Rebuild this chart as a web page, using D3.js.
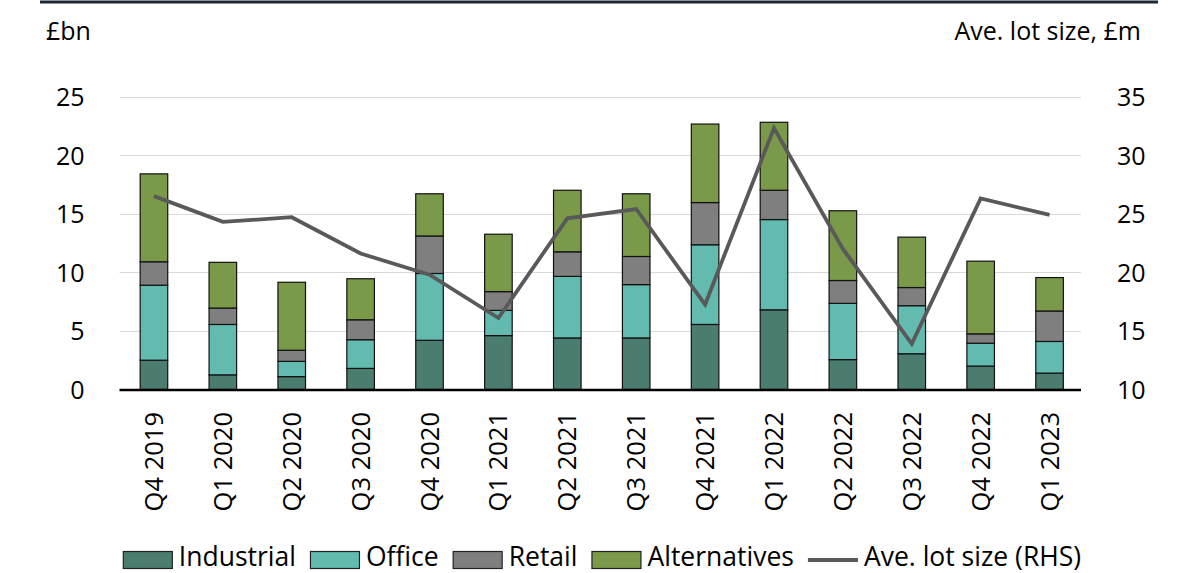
<!DOCTYPE html>
<html>
<head>
<meta charset="utf-8">
<script src="https://cdn.jsdelivr.net/npm/d3@7"></script>
<style>
  html, body { margin: 0; padding: 0; background: #ffffff; }
  svg { display: block; font-family: "Open Sans", "Noto Sans", sans-serif; }
</style>
</head>
<body>
<svg id="chart" width="1183" height="573"></svg>
<script>
// Quarterly investment volumes by sector (£bn) and average lot size (£m)
const quarters = ["Q4 2019", "Q1 2020", "Q2 2020", "Q3 2020", "Q4 2020", "Q1 2021", "Q2 2021",
                  "Q3 2021", "Q4 2021", "Q1 2022", "Q2 2022", "Q3 2022", "Q4 2022", "Q1 2023"];
const industrial   = [2.5, 1.25, 1.1, 1.8, 4.2, 4.6, 4.4, 4.4, 5.55, 6.8, 2.55, 3.05, 2.0, 1.4];
const office       = [6.4, 4.3, 1.3, 2.45, 5.7, 2.15, 5.25, 4.55, 6.8, 7.7, 4.8, 4.1, 1.95, 2.7];
const retail       = [2.0, 1.4, 0.95, 1.7, 3.2, 1.6, 2.1, 2.4, 3.6, 2.5, 1.95, 1.55, 0.8, 2.6];
const alternatives = [7.5, 3.9, 5.8, 3.5, 3.6, 4.9, 5.25, 5.35, 6.7, 5.8, 5.95, 4.3, 6.2, 2.85];
const avgLotSize   = [26.5, 24.3, 24.7, 21.6, 19.8, 16.1, 24.6, 25.4, 17.25, 32.3, 22.0, 13.9, 26.3, 24.9];

const leftTicks  = [0, 5, 10, 15, 20, 25];
const rightTicks = [10, 15, 20, 25, 30, 35];

const seriesNames = ["Industrial", "Office", "Retail", "Alternatives"];
const seriesColors = ["#4a7c6f", "#63bbb0", "#7f7f7f", "#7a9a4a"];
const lineName = "Ave. lot size (RHS)";
const lineColor = "#595959";

const svg = d3.select("#chart");
const plot = { left: 119.5, right: 1084, top: 96.5, bottom: 389.5 };

const x = d3.scaleBand()
  .domain(quarters)
  .range([plot.left, plot.right])
  .paddingInner(0.6)
  .paddingOuter(0.3);

const yL = d3.scaleLinear().domain([0, 25]).range([plot.bottom, plot.top]);
const yR = d3.scaleLinear().domain([10, 35]).range([plot.bottom, plot.top]);

// Thin rule across the top
svg.append("line")
  .attr("x1", 40).attr("x2", 1158)
  .attr("y1", 2).attr("y2", 2)
  .attr("stroke", "#1e2836").attr("stroke-width", 3);

// Horizontal gridlines
svg.append("g")
  .selectAll("line")
  .data(leftTicks.filter(d => d > 0))
  .join("line")
  .attr("x1", plot.left).attr("x2", plot.right - 3)
  .attr("y1", d => Math.round(yL(d)) + 0.5)
  .attr("y2", d => Math.round(yL(d)) + 0.5)
  .attr("stroke", "#d9d9d9").attr("stroke-width", 1);

// Left axis
const leftAxis = svg.append("g")
  .attr("transform", `translate(${plot.left},0)`)
  .call(d3.axisLeft(yL).tickValues(leftTicks).tickSize(0).tickPadding(35));
leftAxis.select(".domain").remove();
leftAxis.selectAll("text")
  .attr("font-size", 25).attr("fill", "#000")
  .attr("font-family", "'Open Sans', sans-serif")
  .attr("dy", "0.36em");

// Right axis
const rightAxis = svg.append("g")
  .attr("transform", `translate(${plot.right},0)`)
  .call(d3.axisRight(yR).tickValues(rightTicks).tickSize(0).tickPadding(33));
rightAxis.select(".domain").remove();
rightAxis.selectAll("text")
  .attr("font-size", 25).attr("fill", "#000")
  .attr("font-family", "'Open Sans', sans-serif")
  .attr("dy", "0.36em");

// Axis titles
svg.append("text")
  .attr("x", 46).attr("y", 40)
  .attr("font-size", 25).attr("fill", "#000")
  .text("£bn");
svg.append("text")
  .attr("x", 1141).attr("y", 40)
  .attr("text-anchor", "end")
  .attr("font-size", 25).attr("fill", "#000")
  .text("Ave. lot size, £m");

// Stacked bars
const rows = quarters.map((q, i) => ({
  quarter: q,
  Industrial: industrial[i],
  Office: office[i],
  Retail: retail[i],
  Alternatives: alternatives[i]
}));
const stacked = d3.stack().keys(seriesNames)(rows);

svg.append("g")
  .selectAll("g")
  .data(stacked)
  .join("g")
  .attr("fill", (d, i) => seriesColors[i])
  .selectAll("rect")
  .data(d => d)
  .join("rect")
  .attr("x", d => x(d.data.quarter))
  .attr("y", d => yL(d[1]))
  .attr("width", x.bandwidth())
  .attr("height", d => yL(d[0]) - yL(d[1]))
  .attr("stroke", "#111")
  .attr("stroke-width", 1.2);

// Baseline
svg.append("line")
  .attr("x1", plot.left).attr("x2", plot.right - 3)
  .attr("y1", plot.bottom + 0.5).attr("y2", plot.bottom + 0.5)
  .attr("stroke", "#000").attr("stroke-width", 2.5);

// Average lot size line (right axis)
const line = d3.line()
  .x((d, i) => x(quarters[i]) + x.bandwidth() / 2)
  .y(d => yR(d));
svg.append("path")
  .datum(avgLotSize)
  .attr("d", line)
  .attr("fill", "none")
  .attr("stroke", lineColor)
  .attr("stroke-width", 3.8)
  .attr("stroke-linejoin", "miter");

// Category labels, rotated
svg.append("g")
  .selectAll("text")
  .data(quarters)
  .join("text")
  .attr("transform", d => `translate(${x(d) + x.bandwidth() / 2 + 9},412) rotate(-90)`)
  .attr("text-anchor", "end")
  .attr("font-size", 25.5).attr("fill", "#000")
  .text(d => d);

// Legend
const legendItems = seriesNames.map((n, i) => ({ name: n, color: seriesColors[i], type: "box" }))
  .concat([{ name: lineName, color: lineColor, type: "line" }]);
const legend = svg.append("g");
const swW = 50, swH = 17, gapText = 6, gapItem = 14, legendY = 566;
let cx = 0;
legendItems.forEach(item => {
  const g = legend.append("g").attr("transform", `translate(${cx},0)`);
  if (item.type === "box") {
    g.append("rect")
      .attr("x", 0.5).attr("y", 551.5)
      .attr("width", swW - 1).attr("height", swH)
      .attr("fill", item.color).attr("stroke", "#222").attr("stroke-width", 1.2);
  } else {
    g.append("line")
      .attr("x1", 0).attr("x2", swW)
      .attr("y1", 560).attr("y2", 560)
      .attr("stroke", item.color).attr("stroke-width", 3.8);
  }
  const t = g.append("text")
    .attr("x", swW + gapText).attr("y", legendY)
    .attr("font-size", 26.5).attr("fill", "#000")
    .text(item.name);
  cx += swW + gapText + t.node().getComputedTextLength() + gapItem;
});
const legendWidth = cx - gapItem;
legend.attr("transform", `translate(${602 - legendWidth / 2},0)`);
</script>
</body>
</html>
